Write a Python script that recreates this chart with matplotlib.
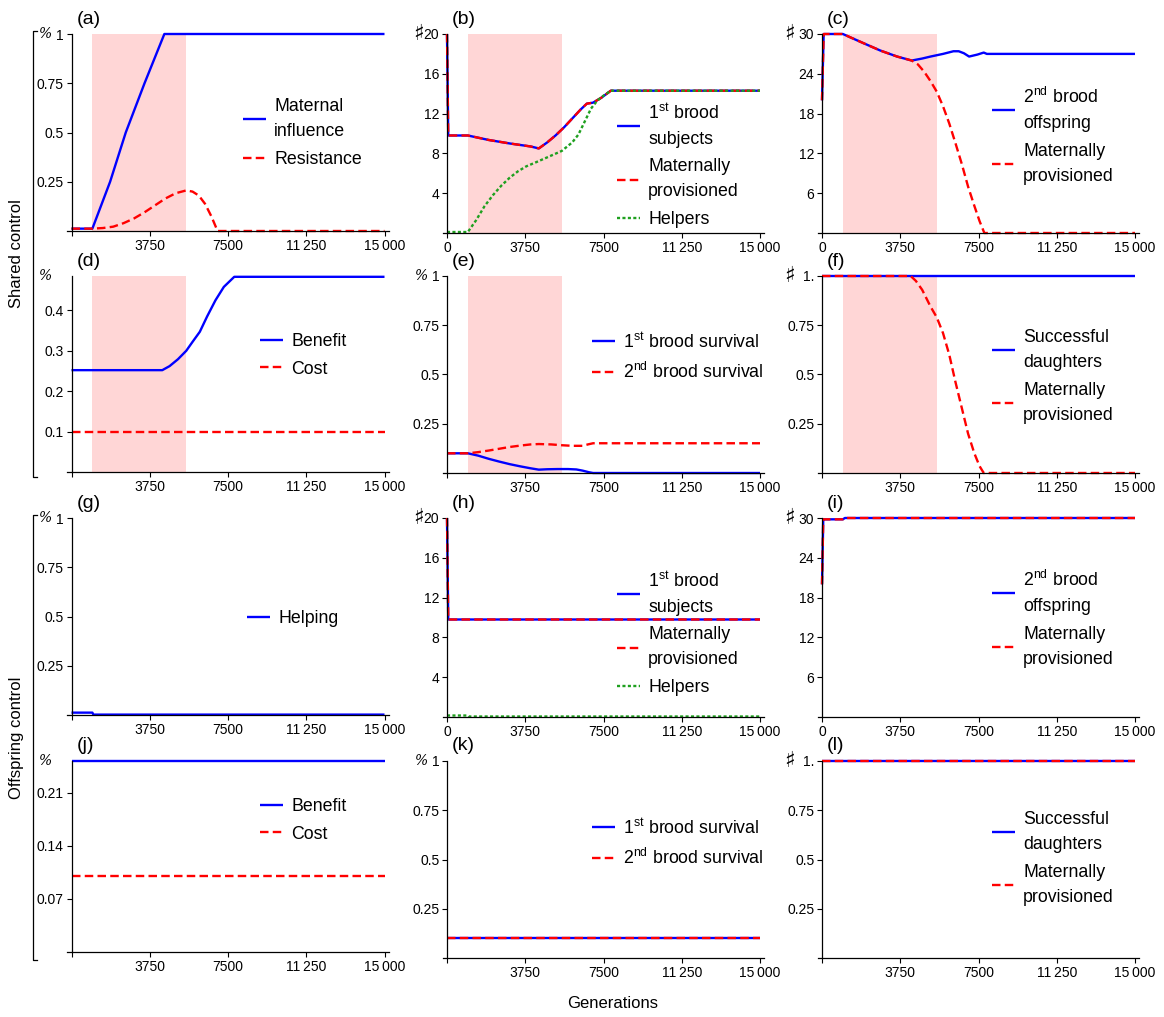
import matplotlib
matplotlib.use('Agg')
import matplotlib.pyplot as plt
from matplotlib.lines import Line2D

plt.rcParams['font.family'] = ['Liberation Sans', 'DejaVu Sans']
plt.rcParams['mathtext.fontset'] = 'custom'
plt.rcParams['mathtext.rm'] = 'Liberation Sans'
plt.rcParams['mathtext.it'] = 'Liberation Sans:italic'

# ---------------- datos ----------------
gen_ticks = [0, 3750, 7500, 11250, 15000]
gen_labels = ['0', '3750', '7500', '11\u2009250', '15\u2009000']
shade_range = (1000, 5500)

# (a) shared control
a_infl_x = [0, 1000, 1850, 2600, 3500, 4450, 15000]
a_infl_y = [0.012, 0.012, 0.25, 0.5, 0.75, 1.0, 1.0]
a_res_x = [0, 1000, 1500, 2000, 2500, 3000, 3500, 4000, 4500, 5000, 5500, 5800, 6100, 6400, 6700, 7000, 15000]
a_res_y = [0.012, 0.012, 0.015, 0.022, 0.04, 0.064, 0.095, 0.13, 0.165, 0.192, 0.206, 0.2, 0.18, 0.138, 0.075, 0.0, 0.0]

# (b)
b_subj_x = [0, 60, 1000, 2000, 3000, 4000, 4400, 4800, 5200, 5600, 6000, 6400, 6700, 7000, 7400, 7850, 15000]
b_subj_y = [20, 9.8, 9.8, 9.35, 9.0, 8.7, 8.5, 9.1, 9.8, 10.6, 11.5, 12.4, 13.0, 13.1, 13.6, 14.3, 14.3]
b_help_x = [0, 1000, 1400, 1800, 2200, 2600, 3000, 3400, 3800, 4200, 4800, 5500, 6000, 6300, 6600, 6900, 7200, 7500, 7850, 15000]
b_help_y = [0.1, 0.1, 1.3, 2.7, 3.8, 4.75, 5.55, 6.2, 6.7, 7.05, 7.6, 8.25, 9.1, 9.9, 11.2, 12.5, 13.3, 13.8, 14.3, 14.3]

# (c)
c_off_x = [0, 80, 1000, 2000, 2800, 3600, 4300, 4800, 5200, 5800, 6300, 6550, 6800, 7050, 7450, 7750, 7900, 15000]
c_off_y = [20, 30, 30, 28.6, 27.5, 26.6, 26.0, 26.3, 26.6, 27.0, 27.4, 27.4, 27.1, 26.6, 26.9, 27.2, 27.0, 27.0]
c_mat_x = [0, 80, 1000, 2000, 2800, 3600, 4300, 4600, 4900, 5200, 5500, 5800, 6100, 6400, 6700, 7000, 7300, 7550, 7780, 15000]
c_mat_y = [20, 30, 30, 28.6, 27.5, 26.6, 26.0, 25.4, 24.3, 22.9, 21.3, 19.1, 16.5, 13.5, 10.4, 7.0, 4.1, 1.8, 0, 0]

# (d)
d_ben_x = [0, 4350, 4700, 5100, 5500, 5800, 6150, 6500, 6900, 7300, 7800, 15000]
d_ben_y = [0.252, 0.252, 0.262, 0.279, 0.30, 0.322, 0.347, 0.385, 0.425, 0.458, 0.483, 0.483]
d_cost_x = [0, 15000]
d_cost_y = [0.1, 0.1]

# (e)
e_s1_x = [0, 1000, 1500, 2000, 2500, 3000, 3500, 4000, 4400, 4800, 5300, 5800, 6200, 6500, 6800, 7000, 15000]
e_s1_y = [0.1, 0.1, 0.088, 0.072, 0.058, 0.045, 0.034, 0.024, 0.017, 0.019, 0.02, 0.02, 0.018, 0.012, 0.004, 0, 0]
e_s2_x = [0, 1000, 1500, 2000, 2500, 3000, 3500, 4000, 4400, 5000, 5500, 6000, 6500, 6750, 7000, 15000]
e_s2_y = [0.1, 0.1, 0.106, 0.114, 0.123, 0.132, 0.139, 0.145, 0.147, 0.145, 0.141, 0.138, 0.138, 0.145, 0.151, 0.151]

# (f)
f_dau_x = [0, 15000]
f_dau_y = [1, 1]
f_mat_x = [0, 4250, 4500, 4800, 5200, 5500, 5800, 6100, 6400, 6700, 7000, 7300, 7550, 7750, 15000]
f_mat_y = [1, 1, 0.975, 0.93, 0.845, 0.79, 0.71, 0.6, 0.46, 0.33, 0.2, 0.1, 0.035, 0, 0]

# (g) offspring control
g_help_x = [0, 1000, 1050, 15000]
g_help_y = [0.012, 0.012, 0.002, 0.002]

# (h)
h_subj_x = [0, 60, 15000]
h_subj_y = [20, 9.8, 9.8]
h_help_x = [0, 1000, 1050, 15000]
h_help_y = [0.15, 0.15, 0.05, 0.05]

# (i)
i_off_x = [0, 60, 1000, 1100, 15000]
i_off_y = [20, 29.8, 29.8, 30, 30]

# (j)
j_ben_x = [0, 15000]
j_ben_y = [0.252, 0.252]
j_cost_x = [0, 15000]
j_cost_y = [0.1, 0.1]

# (k)
k_s_x = [0, 15000]
k_s_y = [0.1, 0.1]

# (l)
l_x = [0, 15000]
l_y = [1, 1]

# ---------------- figura ----------------
W, H = 1164, 1017
SC = 313 / 15000.0
fig = plt.figure(figsize=(W / 100, H / 100), dpi=100)

BLUE = '#0000ff'
RED = '#ff0000'
GREEN = '#1fa01f'
PINK = '#ffd6d6'
LW = 1.7


def make_ax(spine_px, top_px, bot_px):
    x0 = spine_px - 200 * SC
    w = 15400 * SC
    ax = fig.add_axes([x0 / W, 1 - bot_px / H, w / W, (bot_px - top_px) / H])
    ax.set_xlim(-200, 15200)
    for s in ['top', 'right']:
        ax.spines[s].set_visible(False)
    ax.spines['left'].set_position(('data', 0))
    ax.spines['left'].set_linewidth(0.9)
    ax.spines['bottom'].set_linewidth(0.9)
    ax.tick_params(direction='out', length=3.5, width=0.8, labelsize=10, pad=2)
    return ax


def finish(ax, ymax, yticks, ylabels, unit, unit_dx, zero_label, letter, spine_px, top_px):
    ax.set_ylim(0, ymax)
    ax.set_yticks(yticks)
    ax.set_yticklabels(ylabels)
    ax.set_xticks(gen_ticks)
    labs = list(gen_labels)
    if not zero_label:
        labs[0] = ''
    ax.set_xticklabels(labs)
    if unit == '%':
        ax.annotate('%', xy=(0, ymax), xycoords='data', xytext=(-unit_dx / 1.389, 0),
                    textcoords='offset points', ha='center', va='center',
                    fontsize=10, family='DejaVu Serif', style='italic')
    else:
        ax.annotate('\u266f', xy=(0, ymax), xycoords='data', xytext=(-unit_dx / 1.389, 0),
                    textcoords='offset points', ha='center', va='center',
                    fontsize=16, family='DejaVu Sans')
    fig.text((spine_px + 5) / W, 1 - (top_px - 15) / H, letter, fontsize=14,
             ha='left', va='center')


def legend(ax, handles, labels, hx, ty):
    leg = ax.legend(handles, labels, loc='upper left', bbox_to_anchor=(hx / W, 1 - ty / H),
                    bbox_transform=fig.transFigure, frameon=False, fontsize=12.8,
                    handlelength=1.3, handletextpad=0.45, borderpad=0, borderaxespad=0,
                    labelspacing=0.6)
    for t in leg.get_texts():
        t.set_linespacing(1.62)


def blue_line(ax, x, y):
    return ax.plot(x, y, color=BLUE, lw=LW, solid_capstyle='butt', clip_on=False)[0]


def red_line(ax, x, y):
    return ax.plot(x, y, color=RED, lw=LW, dashes=(3.6, 1.8), clip_on=False)[0]


def green_line(ax, x, y):
    return ax.plot(x, y, color=GREEN, lw=LW, dashes=(1.3, 1.0), clip_on=False)[0]


cols = [71.5, 447, 822]
t_pct = [0.25, 0.5, 0.75, 1]

# (a)
ax = make_ax(cols[0], 34, 231)
ax.axvspan(*shade_range, color=PINK, lw=0)
h1 = blue_line(ax, a_infl_x, a_infl_y)
h2 = red_line(ax, a_res_x, a_res_y)
finish(ax, 1, t_pct, ['0.25', '0.5', '0.75', '1'], '%', 25.5, False, '(a)', cols[0], 34)
legend(ax, [h1, h2], ['Maternal\ninfluence', 'Resistance'], 243, 98)

# (b)
ax = make_ax(cols[1], 34, 233)
ax.axvspan(*shade_range, color=PINK, lw=0)
h1 = blue_line(ax, b_subj_x, b_subj_y)
h2 = red_line(ax, b_subj_x, b_subj_y)
h3 = green_line(ax, b_help_x, b_help_y)
finish(ax, 20, [4, 8, 12, 16, 20], ['4', '8', '12', '16', '20'], '#', 29, True, '(b)', cols[1], 34)
legend(ax, [h1, h2, h3], ['1$^{\\mathrm{st}}$ brood\nsubjects', 'Maternally\nprovisioned', 'Helpers'], 617, 103)

# (c)
ax = make_ax(cols[2], 34, 233)
ax.axvspan(*shade_range, color=PINK, lw=0)
h1 = blue_line(ax, c_off_x, c_off_y)
h2 = red_line(ax, c_mat_x, c_mat_y)
finish(ax, 30, [6, 12, 18, 24, 30], ['6', '12', '18', '24', '30'], '#', 33, True, '(c)', cols[2], 34)
legend(ax, [h1, h2], ['2$^{\\mathrm{nd}}$ brood\noffspring', 'Maternally\nprovisioned'], 992, 87)

# (d)
ax = make_ax(cols[0], 276, 472)
ax.axvspan(*shade_range, color=PINK, lw=0)
h1 = blue_line(ax, d_ben_x, d_ben_y)
h2 = red_line(ax, d_cost_x, d_cost_y)
finish(ax, 0.485, [0.1, 0.2, 0.3, 0.4], ['0.1', '0.2', '0.3', '0.4'], '%', 25.5, False, '(d)', cols[0], 276)
legend(ax, [h1, h2], ['Benefit', 'Cost'], 260, 333)

# (e)
ax = make_ax(cols[1], 276, 473)
ax.axvspan(*shade_range, color=PINK, lw=0)
h1 = blue_line(ax, e_s1_x, e_s1_y)
h2 = red_line(ax, e_s2_x, e_s2_y)
finish(ax, 1, t_pct, ['0.25', '0.5', '0.75', '1'], '%', 25, False, '(e)', cols[1], 276)
legend(ax, [h1, h2], ['1$^{\\mathrm{st}}$ brood survival', '2$^{\\mathrm{nd}}$ brood survival'], 592, 332)

# (f)
ax = make_ax(cols[2], 276, 473)
ax.axvspan(*shade_range, color=PINK, lw=0)
h1 = blue_line(ax, f_dau_x, f_dau_y)
h2 = red_line(ax, f_mat_x, f_mat_y)
finish(ax, 1, t_pct, ['0.25', '0.5', '0.75', '1.'], '#', 33, False, '(f)', cols[2], 276)
legend(ax, [h1, h2], ['Successful\ndaughters', 'Maternally\nprovisioned'], 992, 329)

# (g)
ax = make_ax(cols[0], 518, 715)
h1 = blue_line(ax, g_help_x, g_help_y)
finish(ax, 1, t_pct, ['0.25', '0.5', '0.75', '1'], '%', 25.5, False, '(g)', cols[0], 518)
legend(ax, [h1], ['Helping'], 247, 610)

# (h)
ax = make_ax(cols[1], 518, 717)
h1 = blue_line(ax, h_subj_x, h_subj_y)
h2 = red_line(ax, h_subj_x, h_subj_y)
h3 = green_line(ax, h_help_x, h_help_y)
finish(ax, 20, [4, 8, 12, 16, 20], ['4', '8', '12', '16', '20'], '#', 29, True, '(h)', cols[1], 518)
legend(ax, [h1, h2, h3], ['1$^{\\mathrm{st}}$ brood\nsubjects', 'Maternally\nprovisioned', 'Helpers'], 617, 571)

# (i)
ax = make_ax(cols[2], 518, 717)
h1 = blue_line(ax, i_off_x, i_off_y)
h2 = red_line(ax, i_off_x, i_off_y)
finish(ax, 30, [6, 12, 18, 24, 30], ['6', '12', '18', '24', '30'], '#', 33, True, '(i)', cols[2], 518)
legend(ax, [h1, h2], ['2$^{\\mathrm{nd}}$ brood\noffspring', 'Maternally\nprovisioned'], 992, 570)

# (j)
ax = make_ax(cols[0], 761, 952)
h1 = blue_line(ax, j_ben_x, j_ben_y)
h2 = red_line(ax, j_cost_x, j_cost_y)
finish(ax, 0.252, [0.07, 0.14, 0.21], ['0.07', '0.14', '0.21'], '%', 25.5, False, '(j)', cols[0], 761)
legend(ax, [h1, h2], ['Benefit', 'Cost'], 260, 798)

# (k)
ax = make_ax(cols[1], 761, 958)
h1 = blue_line(ax, k_s_x, k_s_y)
h2 = red_line(ax, k_s_x, k_s_y)
finish(ax, 1, t_pct, ['0.25', '0.5', '0.75', '1'], '%', 25, False, '(k)', cols[1], 761)
legend(ax, [h1, h2], ['1$^{\\mathrm{st}}$ brood survival', '2$^{\\mathrm{nd}}$ brood survival'], 592, 818)

# (l)
ax = make_ax(cols[2], 761, 958)
h1 = blue_line(ax, l_x, l_y)
h2 = red_line(ax, l_x, l_y)
finish(ax, 1, t_pct, ['0.25', '0.5', '0.75', '1.'], '#', 33, False, '(l)', cols[2], 761)
legend(ax, [h1, h2], ['Successful\ndaughters', 'Maternally\nprovisioned'], 992, 811)

# corchetes de la izquierda
for top, bot, txt in [(31, 477, 'Shared control'), (515, 960, 'Offspring control')]:
    xs = [37 / W, 33 / W, 33 / W, 37 / W]
    ys = [1 - top / H, 1 - top / H, 1 - bot / H, 1 - bot / H]
    fig.add_artist(Line2D(xs, ys, color='black', lw=0.9, transform=fig.transFigure))
    fig.text(17 / W, 1 - (top + bot) / 2 / H, txt, rotation=90, ha='center', va='center', fontsize=12)

fig.text(613 / W, 1 - 1003 / H, 'Generations', ha='center', va='center', fontsize=12)

plt.savefig('out.png', dpi=100)
